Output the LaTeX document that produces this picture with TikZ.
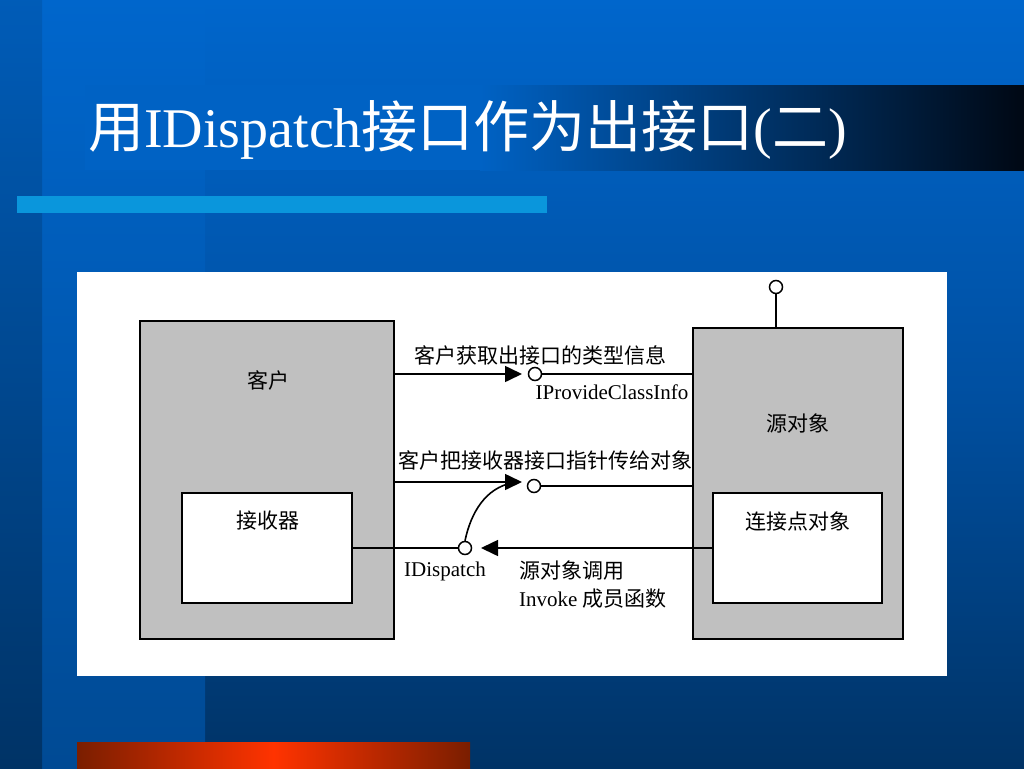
\documentclass[tikz,border=0pt]{standalone}
\usepackage{fontspec}
\setmainfont{Liberation Serif}
\newfontfamily\cjk{Noto Sans CJK SC}
\usetikzlibrary{arrows.meta}
\definecolor{bgtop}{HTML}{0066CC}
\definecolor{bgmid}{HTML}{0050A2}
\definecolor{bgbot}{HTML}{003366}
\definecolor{colbot}{HTML}{004A94}
\definecolor{bandl}{HTML}{0062C4}
\definecolor{bandr}{HTML}{000814}
\definecolor{lightbar}{HTML}{0A96DC}
\definecolor{orangemid}{HTML}{FF3300}
\definecolor{orangeend}{HTML}{7A1E00}
\definecolor{boxgray}{HTML}{C0C0C0}
\tikzset{
  graybox/.style={draw=black, fill=boxgray, line width=1.5pt, inner sep=0pt},
  whitebox/.style={draw=black, fill=white, line width=1.5pt, inner sep=0pt},
  lbl/.style={font=\fontsize{21}{25}\selectfont, inner sep=0pt, text=black},
  conn/.style={line width=1.6pt, draw=black},
  tiparrow/.style={conn, -{Triangle[length=17pt, width=16pt]}},
  lolli/.style={circle, draw=black, fill=white, line width=1.5pt, minimum size=13pt, inner sep=0pt},
  titletext/.style={font=\fontsize{56}{60}\selectfont, inner sep=0pt, anchor=base west}
}
\begin{document}
\begin{tikzpicture}[x=1pt, y=-1pt]
\useasboundingbox (0,0) rectangle (1024,768);
% background
\shade[top color=bgtop, bottom color=bgbot, middle color=bgmid] (0,0) rectangle (1024,768);
\shade[top color=bgtop, bottom color=colbot] (42,0) rectangle (205,768);
\shade[top color=bgtop!90!black, bottom color=bgbot] (0,0) rectangle (42,768);
% title band
\fill[bandl] (85,85) rectangle (480,170);
\shade[left color=bandl, right color=bandr] (480,85) rectangle (1024,170);
% light bar
\fill[lightbar] (17,196) rectangle (547,213);
% orange bar
\shade[left color=orangeend, right color=orangeend, middle color=orangemid] (77,742) rectangle (470,768);
% title
\node[titletext, text=white] (title) at (88,147) {{\cjk 用}IDispatch{\cjk 接口作为出接口}({\cjk 二})};
% white panel
\fill[white] (77,272) rectangle (947,676);
% boxes
\node[graybox, minimum width=254pt, minimum height=318pt] (client) at (267,480) {};
\node[whitebox, minimum width=170pt, minimum height=110pt] (receiver) at (267,548) {};
\node[graybox, minimum width=210pt, minimum height=311pt] (source) at (798,483.5) {};
\node[whitebox, minimum width=169pt, minimum height=110pt] (cpoint) at (797.5,548) {};
% box labels
\node[lbl] (clientlbl) at (268,380) {\cjk 客户};
\node[lbl] (receiverlbl) at (268,521) {\cjk 接收器};
\node[lbl] (sourcelbl) at (798,423) {\cjk 源对象};
\node[lbl] (cpointlbl) at (798,521) {\cjk 连接点对象};
% lollipop circles
\node[lolli] (c1) at (535,374) {};
\node[lolli] (c2) at (534,486) {};
\node[lolli] (c3) at (465,548) {};
\node[lolli] (c4) at (776,287) {};
\coordinate (t1) at (522,374);
\coordinate (t2) at (522,482);
\coordinate (t3) at (481,548);
% connectors
\draw[tiparrow] (client.east |- t1) -- (t1);
\draw[conn] (c1.east) -- (source.west |- c1);
\draw[tiparrow] (client.east |- t2) -- (t2);
\draw[conn] (c2.east) -- (source.west |- c2);
\draw[conn] (receiver.east) -- (c3.west);
\draw[tiparrow] (cpoint.west) -- (t3);
\draw[conn] (c3.north) .. controls (471,512) and (486,488) .. (512,483);
\draw[conn] (c4.south) -- (source.north -| c4);
% connector labels
\node[lbl] (l1) at (540,355) {\cjk 客户获取出接口的类型信息};
\node[lbl] (l2) at (612,392) {IProvideClassInfo};
\node[lbl] (l3) at (545,460) {\cjk 客户把接收器接口指针传给对象};
\node[lbl] (l4) at (445,571) {IDispatch};
\node[lbl, anchor=west] (l5) at (519,571) {\cjk 源对象调用};
\node[lbl, anchor=west] (l6) at (519,599) {Invoke {\cjk 成员函数}};
\end{tikzpicture}
\end{document}
